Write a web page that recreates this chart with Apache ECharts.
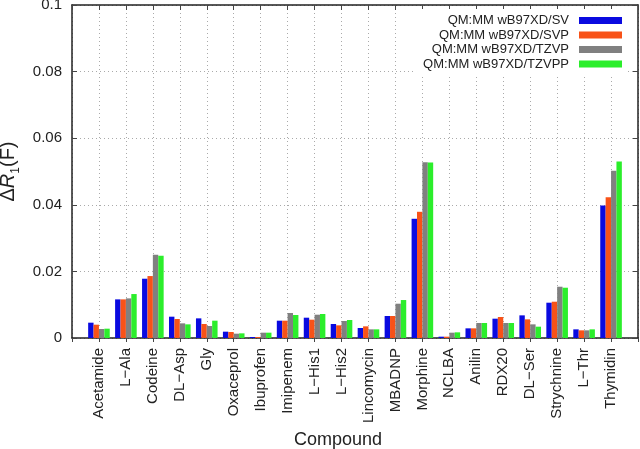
<!DOCTYPE html>
<html>
<head>
<meta charset="utf-8">
<script src="https://cdn.jsdelivr.net/npm/echarts@6/dist/echarts.min.js"></script>
<style>
  html, body { margin: 0; padding: 0; background: #fff; }
  #chart { width: 640px; height: 449px; }
</style>
</head>
<body>
<div id="chart"></div>
<script>
// compounds (x axis)
var compounds = ['Acetamide', 'L\u2212Ala', 'Codeine', 'DL\u2212Asp', 'Gly', 'Oxaceprol', 'Ibuprofen', 'Imipenem',
  'L\u2212His1', 'L\u2212His2', 'Lincomycin', 'MBADNP', 'Morphine', 'NCLBA', 'Anilin', 'RDX20',
  'DL\u2212Ser', 'Strychnine', 'L\u2212Thr', 'Thymidin'];

var seriesNames = ['QM:MM wB97XD/SV', 'QM:MM wB97XD/SVP', 'QM:MM wB97XD/TZVP', 'QM:MM wB97XD/TZVPP'];

// delta R1(F) values
var sv    = [0.0046, 0.0116, 0.0178, 0.0064, 0.0059, 0.0019, 0.0003, 0.0052, 0.0061, 0.0042,
             0.0030, 0.0066, 0.0358, 0.0004, 0.0029, 0.0058, 0.0068, 0.0106, 0.0026, 0.0398];
var svp   = [0.0040, 0.0116, 0.0186, 0.0057, 0.0042, 0.0018, 0.0003, 0.0052, 0.0055, 0.0038,
             0.0035, 0.0066, 0.0379, 0.0004, 0.0029, 0.0063, 0.0056, 0.0109, 0.0023, 0.0423];
var tzvp  = [0.0027, 0.0119, 0.0250, 0.0044, 0.0036, 0.0013, 0.0016, 0.0075, 0.0070, 0.0051,
             0.0026, 0.0103, 0.0528, 0.0016, 0.0045, 0.0045, 0.0041, 0.0154, 0.0023, 0.0502];
var tzvpp = [0.0028, 0.0132, 0.0247, 0.0041, 0.0052, 0.0014, 0.0016, 0.0069, 0.0072, 0.0054,
             0.0026, 0.0114, 0.0527, 0.0017, 0.0045, 0.0045, 0.0034, 0.0151, 0.0026, 0.0530];

var yTicks = [0, 0.02, 0.04, 0.06, 0.08, 0.1];

var colors = ['#0a0ae0', '#f85218', '#808080', '#2bee2b'];

function pairs(arr) {
  return arr.map(function (v, i) { return [i, v]; });
}

var myChart = echarts.init(document.getElementById('chart'));
var axisCol = '#222';
var gridLine = { show: true, lineStyle: { type: [1, 3], color: '#aaa', width: 1 } };

var option = {
  animation: false,
  color: colors,
  textStyle: { fontFamily: 'Liberation Sans, Arial, sans-serif' },
  grid: { left: 72, right: 2, top: 5, bottom: 111, outerBoundsMode: 'none' },
  legend: {
    data: seriesNames,
    orient: 'vertical',
    right: 12,
    top: 9,
    align: 'right',
    icon: 'rect',
    itemWidth: 43,
    itemHeight: 7,
    itemGap: 1.5,
    padding: [5, 6, 5, 8],
    backgroundColor: '#fff',
    textStyle: { fontSize: 13, color: '#222', lineHeight: 13, padding: [0, 5, 0, 0] }
  },
  xAxis: [
    {
      type: 'value',
      min: -1,
      max: 20,
      interval: 1,
      name: 'Compound',
      nameLocation: 'middle',
      nameGap: 93,
      nameTextStyle: { fontSize: 18, color: '#222', padding: [0, 34, 0, 0] },
      axisLine: { show: true, onZero: false, lineStyle: { color: axisCol, width: 1.5 } },
      axisTick: { show: true, inside: false, length: 4, lineStyle: { color: '#444' } },
      axisLabel: {
        rotate: 90,
        margin: 10,
        fontSize: 15,
        color: '#222',
        formatter: function (v) { return compounds[v] || ''; }
      },
      splitLine: gridLine
    },
    {
      type: 'value',
      position: 'top',
      min: -1,
      max: 20,
      interval: 1,
      axisLine: { show: true, onZero: false, lineStyle: { color: axisCol, width: 1.5 } },
      axisTick: { show: true, inside: true, length: 5, lineStyle: { color: '#444' } },
      axisLabel: { show: false },
      splitLine: { show: false }
    }
  ],
  yAxis: [
    {
      type: 'value',
      min: 0,
      max: 0.1,
      interval: 0.02,
      name: '{a|\u0394}{i|R}{s|1}{a|(F)}',
      nameLocation: 'middle',
      nameGap: 45,
      nameTextStyle: {
        rich: {
          a: { fontSize: 20, color: '#222', lineHeight: 26, verticalAlign: 'middle' },
          i: { fontSize: 20, color: '#222', fontStyle: 'italic', lineHeight: 26, verticalAlign: 'middle' },
          s: { fontSize: 12, color: '#222', lineHeight: 26, verticalAlign: 'bottom' }
        }
      },
      axisLine: { show: true, onZero: false, lineStyle: { color: axisCol, width: 1.5 } },
      axisTick: { show: true, inside: true, length: 5, lineStyle: { color: '#444' } },
      axisLabel: {
        margin: 10,
        fontSize: 15,
        color: '#222',
        formatter: function (v) {
          var t = yTicks.filter(function (k) { return Math.abs(k - v) < 1e-9; });
          return t.length ? String(t[0]) : '';
        }
      },
      splitLine: gridLine
    },
    {
      type: 'value',
      position: 'right',
      min: 0,
      max: 0.1,
      interval: 0.02,
      axisLine: { show: true, onZero: false, lineStyle: { color: axisCol, width: 1.5 } },
      axisTick: { show: true, inside: true, length: 5, lineStyle: { color: '#444' } },
      axisLabel: { show: false },
      splitLine: { show: false }
    }
  ],
  series: [
    { name: seriesNames[0], type: 'bar', data: pairs(sv), barWidth: 5.4, barGap: '0%' },
    { name: seriesNames[1], type: 'bar', data: pairs(svp), barWidth: 5.4, barGap: '0%' },
    { name: seriesNames[2], type: 'bar', data: pairs(tzvp), barWidth: 5.4, barGap: '0%' },
    { name: seriesNames[3], type: 'bar', data: pairs(tzvpp), barWidth: 5.4, barGap: '0%' }
  ]
};
myChart.setOption(option);
</script>
</body>
</html>
